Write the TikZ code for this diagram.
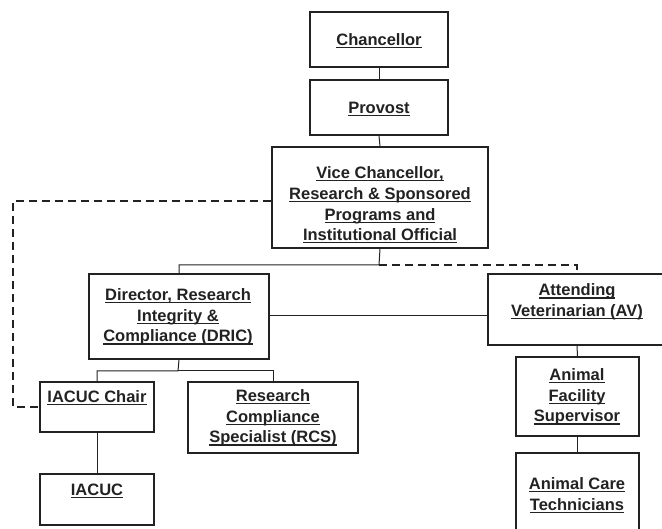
\documentclass[tikz,border=0pt]{standalone}
\usepackage{fontspec}
\setmainfont{Liberation Sans}
\definecolor{ink}{HTML}{222222}
\newsavebox{\ulbox}
\newcommand{\ul}[1]{\sbox{\ulbox}{#1}\rlap{\rule[-2.6pt]{\wd\ulbox}{1.1pt}}\usebox{\ulbox}}
\begin{document}
\begin{tikzpicture}[x=1pt,y=-1pt,
  box/.style={draw=ink,line width=1.6pt,rectangle,inner sep=0pt},
  lbl/.style={align=center,text=ink,font=\fontsize{16.5}{20.7}\selectfont\bfseries,inner sep=0pt},
  conn/.style={draw=ink,line width=1pt},
  dconn/.style={draw=ink,line width=1.5pt,dash pattern=on 8pt off 5pt}]
\clip (0,0) rectangle (662,529);
\fill[white] (0,0) rectangle (662,529);
% boxes
\node[box,minimum width=138,minimum height=55] (chan) at (379,39.5) {};
\node[box,minimum width=138,minimum height=55] (prov) at (379,107.5) {};
\node[box,minimum width=216,minimum height=101] (vc) at (380,197.5) {};
\node[box,minimum width=180,minimum height=85] (dric) at (179,316.5) {};
\node[box,minimum width=178,minimum height=71] (av) at (577,309.5) {};
\node[box,minimum width=123,minimum height=79] (afs) at (577.5,396.5) {};
\node[box,minimum width=123,minimum height=84] (act) at (577.5,495) {};
\node[box,minimum width=114,minimum height=50] (chair) at (97,407) {};
\node[box,minimum width=170,minimum height=71] (rcs) at (273,417.5) {};
\node[box,minimum width=114,minimum height=51] (iacuc) at (97,499.5) {};
% labels
\node[lbl] (tchan) at (379,41) {\ul{Chancellor}};
\node[lbl] (tprov) at (379,109) {\ul{Provost}};
\node[lbl] (tvc) at (380,205) {\ul{Vice Chancellor,}\\\ul{Research \& Sponsored}\\\ul{Programs and}\\\ul{Institutional Official}};
\node[lbl] (tdric) at (178,317) {\ul{Director, Research}\\\ul{Integrity \&}\\\ul{Compliance (DRIC)}};
\node[lbl] (tav) at (577,302) {\ul{Attending}\\\ul{Veterinarian (AV)}};
\node[lbl] (tafs) at (577,397) {\ul{Animal}\\\ul{Facility}\\\ul{Supervisor}};
\node[lbl] (tact) at (577,495) {\ul{Animal Care}\\\ul{Technicians}};
\node[lbl] (tchair) at (97,398) {\ul{IACUC Chair}};
\node[lbl] (trcs) at (273,418) {\ul{Research}\\\ul{Compliance}\\\ul{Specialist (RCS)}};
\node[lbl] (tiacuc) at (97,491) {\ul{IACUC}};
% connectors
\coordinate (j1) at (379,265);
\coordinate (j2) at (178,371);
\coordinate (dl) at (13,201);
\draw[conn] (chan.south) -- (prov.north);
\draw[conn] (prov.south) -- (vc.north);
\draw[conn] (vc.south) -- (j1) -| (dric.north);
\draw[dconn] (j1) -| (av.north);
\draw[dconn] (vc.west |- dl) -- (dl) |- (chair.west);
\draw[conn] (dric.east |- 0,316) -- (av.west |- 0,316);
\draw[conn] (dric.south) -- (j2) -| (chair.north);
\draw[conn] (j2) -| (rcs.north);
\draw[conn] (chair.south) -- (iacuc.north);
\draw[conn] (av.south) -- (afs.north);
\draw[conn] (afs.south) -- (act.north);
\end{tikzpicture}
\end{document}
